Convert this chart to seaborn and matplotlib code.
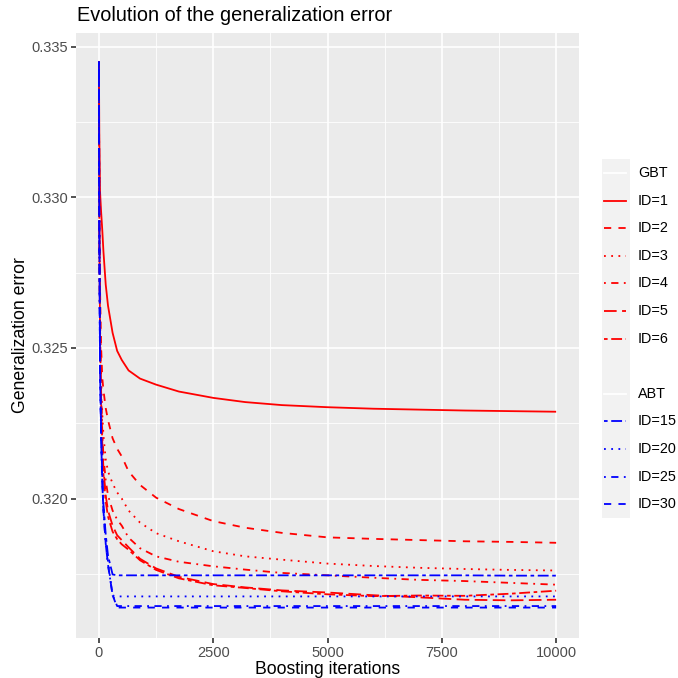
import numpy as np
import pandas as pd
import seaborn as sns
import matplotlib
matplotlib.use("Agg")
import matplotlib.pyplot as plt
from matplotlib.patches import Rectangle

# ---------------- data ----------------
iters = [1, 10, 25, 50, 75, 100, 150, 200, 300, 400, 500, 650, 900, 1250, 1750,
         2500, 3200, 4000, 5000, 6000, 7000, 8000, 9000, 10000]

gbt_id1 = [0.3345, 0.3320, 0.3302, 0.3295, 0.3289, 0.3282, 0.3271, 0.3264, 0.3255,
           0.3249, 0.3246, 0.32425, 0.32398, 0.32378, 0.32355, 0.32334, 0.3232, 0.3231,
           0.32303, 0.32298, 0.32295, 0.32292, 0.3229, 0.32288]
gbt_id2 = [0.3345, 0.3300, 0.3270, 0.3250, 0.3240, 0.3236, 0.3230, 0.3226, 0.3220,
           0.32165, 0.3214, 0.3209, 0.32045, 0.32003, 0.31965, 0.31925, 0.31903,
           0.31886, 0.31871, 0.31866, 0.31862, 0.31858, 0.31856, 0.31853]
gbt_id3 = [0.3345, 0.3295, 0.3262, 0.3240, 0.3228, 0.3221, 0.3213, 0.3209, 0.3205,
           0.3202, 0.3200, 0.3196, 0.3192, 0.31885, 0.31858, 0.31825, 0.31808,
           0.31797, 0.31784, 0.31776, 0.3177, 0.31766, 0.31763, 0.31761]
gbt_id4 = [0.3345, 0.3292, 0.3258, 0.3235, 0.3222, 0.3214, 0.3206, 0.3201, 0.3196,
           0.3193, 0.3191, 0.3187, 0.31835, 0.31808, 0.3179, 0.31775, 0.31764,
           0.31753, 0.31745, 0.31737, 0.3173, 0.31726, 0.3172, 0.31714]
gbt_id5 = [0.3345, 0.3290, 0.3255, 0.3232, 0.3218, 0.3210, 0.3201, 0.3196, 0.3191,
           0.31878, 0.31862, 0.31838, 0.31800, 0.31768, 0.31740, 0.31716, 0.31705,
           0.31695, 0.31688, 0.31679, 0.31672, 0.31664, 0.31662, 0.31664]
gbt_id6 = [0.3345, 0.3289, 0.3253, 0.3230, 0.3216, 0.3208, 0.3199, 0.3194, 0.3189,
           0.31865, 0.31848, 0.31830, 0.31795, 0.31763, 0.31735, 0.31712, 0.31703,
           0.31692, 0.31682, 0.31676, 0.31678, 0.31677, 0.31684, 0.31694]

abt_id15 = [0.3345, 0.3290, 0.3245, 0.3222, 0.3207, 0.3198, 0.3188, 0.3181, 0.31748,
            0.31745, 0.31745, 0.31745, 0.31745, 0.31745, 0.31745, 0.31745, 0.31745,
            0.31745, 0.31745, 0.31745, 0.31745, 0.31745, 0.31744, 0.31744]
abt_id20 = [0.3345, 0.3289, 0.3244, 0.3221, 0.3206, 0.3197, 0.3186, 0.3179, 0.31678,
            0.31675, 0.31675, 0.31675, 0.31675, 0.31675, 0.31675, 0.31675, 0.31675,
            0.31675, 0.31675, 0.31675, 0.31675, 0.31675, 0.31675, 0.31675]
abt_id25 = [0.3345, 0.3288, 0.3243, 0.3220, 0.3205, 0.3196, 0.3185, 0.3178, 0.3168,
            0.31643, 0.31643, 0.31643, 0.31643, 0.31643, 0.31643, 0.31643, 0.31643,
            0.31643, 0.31643, 0.31643, 0.31643, 0.31643, 0.31643, 0.31643]
abt_id30 = [0.3345, 0.3288, 0.3243, 0.3220, 0.3205, 0.3196, 0.3185, 0.3178, 0.3168,
            0.31638, 0.31638, 0.31638, 0.31638, 0.31638, 0.31638, 0.31638, 0.31638,
            0.31638, 0.31638, 0.31638, 0.31638, 0.31638, 0.31638, 0.31638]

gbt_labels = ["ID=1", "ID=2", "ID=3", "ID=4", "ID=5", "ID=6"]
abt_labels = ["ID=15", "ID=20", "ID=25", "ID=30"]
gbt_series = [gbt_id1, gbt_id2, gbt_id3, gbt_id4, gbt_id5, gbt_id6]
abt_series = [abt_id15, abt_id20, abt_id25, abt_id30]

x_ticks = [0, 2500, 5000, 7500, 10000]
y_ticks = [0.320, 0.325, 0.330, 0.335]

# ggplot-like line types (in units of line width)
lt = {"solid": "", "dashed": (4, 4), "dotted": (1, 3), "dotdash": (1, 3, 4, 3),
      "longdash": (7, 3), "twodash": (2, 2, 6, 2)}
gbt_types = ["solid", "dashed", "dotted", "dotdash", "longdash", "twodash"]
abt_types = ["twodash", "dotted", "dotdash", "dashed"]

rows = []
for lab, vals in zip(gbt_labels, gbt_series):
    for it, v in zip(iters, vals):
        rows.append({"iter": it, "err": v, "id": "GBT " + lab})
for lab, vals in zip(abt_labels, abt_series):
    for it, v in zip(iters, vals):
        rows.append({"iter": it, "err": v, "id": "ABT " + lab})
df = pd.DataFrame(rows)

order = ["GBT " + l for l in gbt_labels] + ["ABT " + l for l in abt_labels]
palette = {k: ("#FF0000" if k.startswith("GBT") else "#0000FF") for k in order}
dashes = {}
for l, t in zip(gbt_labels, gbt_types):
    dashes["GBT " + l] = lt[t]
for l, t in zip(abt_labels, abt_types):
    dashes["ABT " + l] = lt[t]

# ---------------- figure ----------------
W = H = 678
fig = plt.figure(figsize=(W / 100, H / 100), dpi=100)
plt.rcParams["font.family"] = ["Liberation Sans", "DejaVu Sans"]

L, R, T, B = 76, 579, 33, 638
ax = fig.add_axes([L / W, 1 - B / H, (R - L) / W, (B - T) / H])
ax.set_facecolor("#EBEBEB")

LW = 1.3
sns.lineplot(data=df, x="iter", y="err", hue="id", style="id", hue_order=order,
             style_order=order, palette=palette, dashes=dashes, linewidth=LW,
             legend=False, ax=ax, estimator=None, sort=False)
for ln in ax.get_lines():
    ln.set_dash_capstyle("butt")
    ln.set_solid_capstyle("butt")
    ln.set_solid_joinstyle("round")

ax.set_xlim(-500, 10500)
ax.set_ylim(0.31537, 0.33545)
ax.set_xticks(x_ticks)
ax.set_xticklabels([str(t) for t in x_ticks])
ax.set_yticks(y_ticks)
ax.set_yticklabels([f"{t:.3f}" for t in y_ticks])
ax.set_xticks([1250, 3750, 6250, 8750], minor=True)
ax.set_yticks([0.3175, 0.3225, 0.3275, 0.3325], minor=True)
ax.grid(which="major", color="white", linewidth=1.2)
ax.grid(which="minor", color="white", linewidth=0.6)
ax.set_axisbelow(True)
for s in ax.spines.values():
    s.set_visible(False)
ax.tick_params(which="major", length=3.3, width=1.2, color="#333333",
               labelcolor="#4D4D4D", labelsize=10.5, pad=2.5)
ax.tick_params(which="minor", length=0)
ax.set_xlabel("Boosting iterations", fontsize=12.7, color="black", labelpad=1)
ax.set_ylabel("Generalization error", fontsize=12.7, color="black", labelpad=1.5)
fig.text(77 / W, 1 - 21 / H, "Evolution of the generalization error",
         fontsize=14.3, color="black", ha="left", va="baseline")

# ---------------- legend ----------------
lax = fig.add_axes([0, 0, 1, 1])
lax.set_xlim(0, W)
lax.set_ylim(H, 0)
lax.axis("off")
row0, step = 173, 27.6
kx0, kx1 = 602, 630
lax.add_patch(Rectangle((kx0, row0 - step / 2), kx1 - kx0, step * 13,
                        facecolor="#F2F2F2", edgecolor="none"))
entries = [("GBT", "white", "")]
entries += [(l, "#FF0000", lt[t]) for l, t in zip(gbt_labels, gbt_types)]
entries += [(None, None, None), ("ABT", "white", "")]
entries += [(l, "#0000FF", lt[t]) for l, t in zip(abt_labels, abt_types)]
for i, (lab, col, ds) in enumerate(entries):
    y = row0 + i * step
    if lab is None:
        continue
    ln, = lax.plot([604, 626], [y, y], color=col, linewidth=LW)
    if ds:
        ln.set_dashes(ds)
    ln.set_dash_capstyle("butt")
    lax.text(638, y, lab, fontsize=10.4, color="black", va="center", ha="left")

fig.savefig("out.png", dpi=100, facecolor="white")
